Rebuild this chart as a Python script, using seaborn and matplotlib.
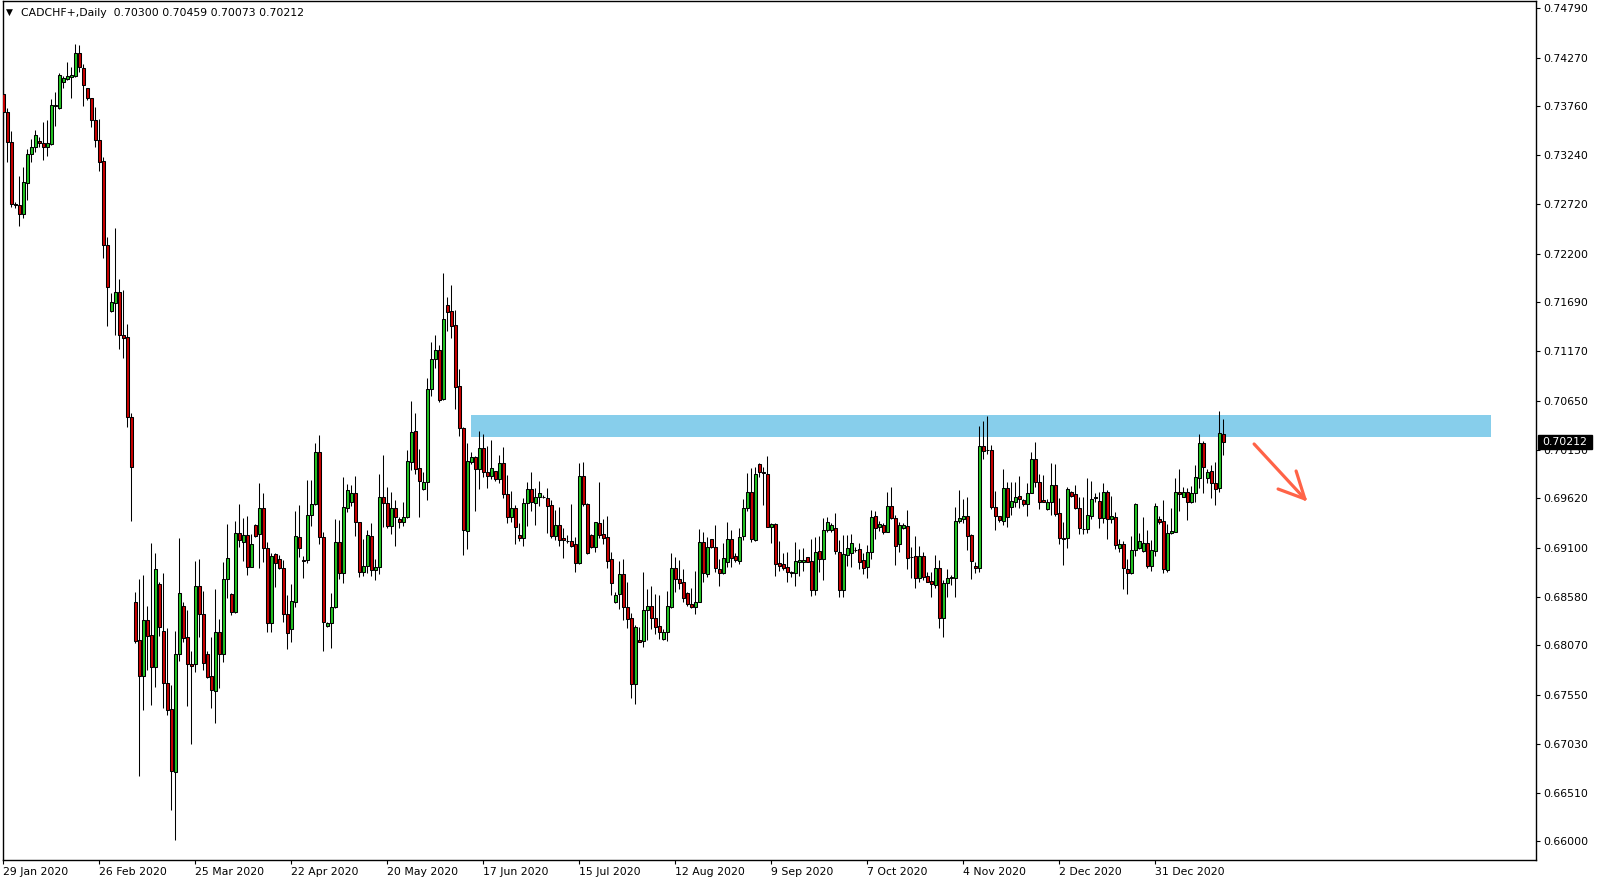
import matplotlib
matplotlib.use("Agg")
import matplotlib.pyplot as plt
from matplotlib.patches import Rectangle
import seaborn as sns
import pandas as pd
import numpy as np

# ---------------- data (CADCHF+, Daily) ----------------
opens = [
    .73881, .73691, .73375, .72727, .72713, .72621, .72942, .73248, .73322, .73389,
    .73368, .73322, .73360, .73769, .73741, .74008, .74047, .74068, .74079, .74318,
    .74160, .73948, .73843, .73610, .73399, .73177, .72297, .71600, .71685, .71801,
    .71347, .71318, .70474, .68522, .68125, .67749, .68336, .68178, .67844, .68716,
    .68220, .67668, .67397, .66736, .67974, .68484, .68153, .67872, .67868, .68695,
    .68399, .67977, .67745, .67583, .68206, .67974, .68769, .68610, .68424, .69250,
    .69155, .69233, .68898, .69338, .69240, .69514, .69092, .68301, .69029, .68976,
    .68881, .68396, .68237, .68529, .69208, .68969, .68969, .69444, .69556, .70105,
    .69208, .68273, .68301, .68469, .69155, .68828, .69514, .69584, .69672, .69366,
    .68846, .68909, .69222, .68860, .68900, .69630, .69567, .69331, .69514, .69398,
    .69366, .69426, .70006, .70326, .69936, .69714, .69788, .70769, .71090, .71184,
    .70667, .71656, .71596, .71448, .70805, .70358, .69278, .69999, .70052, .69929,
    .70147, .69894, .69859, .69908, .69820, .69989, .69662, .69419, .69514, .69233,
    .69197, .69567, .69714, .69567, .69630, .69637, .69620, .69549, .69226, .69338,
    .69197, .69173, .69170, .69138, .68941, .69855, .69560, .69233, .69110, .69356,
    .69240, .69208, .68979, .68529, .68607, .68821, .68469, .68353, .67657, .68125,
    .68114, .68441, .68484, .68353, .68273, .68132, .68213, .68477, .68881, .68765,
    .68733, .68617, .68501, .68469, .68529, .69155, .68818, .69187, .69103, .68870,
    .68828, .68944, .69187, .69015, .68962, .69226, .69514, .69683, .69180, .69978,
    .69894, .69876, .69321, .69345, .68941, .68923, .68892, .68839, .68828, .68951,
    .68951, .68997, .68958, .68652, .69064, .68976, .69285, .69285, .69303, .69050,
    .68652, .69022, .69039, .69070, .69081, .68968, .68891, .69049, .69433, .69320,
    .69338, .69267, .69538, .69408, .69134, .69303, .69327, .69004, .69011, .68775,
    .69011, .68800, .68747, .68705, .68881, .68353, .68722, .68775, .68775, .69380,
    .69397, .69433, .69233, .68909, .68888, .70172, .70126, .70129, .69525, .69433,
    .69384, .69725, .69532, .69584, .69644, .69602, .69556, .69679, .70031, .69795,
    .69602, .69503, .69577, .69760, .69461, .69197, .69197, .69683, .69662, .69514,
    .69300, .69292, .69437, .69630, .69591, .69408, .69683, .69398, .69419, .69092,
    .69138, .68874, .68828, .69074, .69099, .69067, .69145, .68909, .69067, .69401,
    .69380, .68863, .69250, .69268, .69683, .69637, .69683, .69577, .69672, .69831,
    .70200, .69831, .69908, .69778, .69725, .70300,
]
closes = [
    .73691, .73375, .72730, .72713, .72621, .72959, .73251, .73322, .73452, .73364,
    .73322, .73368, .73769, .73755, .74086, .74057, .74075, .74086, .74318, .74167,
    .73980, .73839, .73607, .73396, .73170, .72297, .71854, .71688, .71801, .71347,
    .71315, .70474, .69947, .68118, .67749, .68336, .68171, .67844, .68874, .68266,
    .67668, .67387, .66747, .67974, .68617, .68150, .67868, .67854, .68695, .68396,
    .67879, .67738, .67594, .68206, .67974, .68769, .68987, .68424, .69250, .69180,
    .69233, .68899, .69134, .69222, .69514, .69092, .68301, .69011, .68934, .68888,
    .68396, .68195, .68536, .69222, .69092, .68958, .69444, .69556, .70105, .69208,
    .68318, .68301, .68469, .69155, .68828, .69525, .69707, .69672, .69366, .68846,
    .68909, .69233, .68860, .68900, .69630, .69567, .69331, .69514, .69426, .69366,
    .69419, .70013, .70316, .69929, .69806, .69788, .70769, .71086, .71184, .70657,
    .71508, .71589, .71441, .70798, .70358, .69285, .70013, .70052, .69929, .70147,
    .69894, .69859, .69936, .69820, .69989, .69662, .69426, .69514, .69321, .69197,
    .69567, .69714, .69577, .69630, .69672, .69630, .69542, .69226, .69338, .69180,
    .69180, .69170, .69120, .68941, .69855, .69560, .69046, .69110, .69366, .69233,
    .69205, .68962, .68723, .68600, .68821, .68469, .68346, .67657, .68258, .68107,
    .68441, .68484, .68353, .68265, .68213, .68213, .68484, .68881, .68765, .68730,
    .68564, .68501, .68469, .68529, .69155, .68828, .69110, .69103, .68881, .68828,
    .68986, .69187, .68986, .68969, .69215, .69514, .69683, .69187, .69876, .69894,
    .69890, .69321, .69345, .68923, .68909, .68881, .68846, .68828, .68958, .68969,
    .68969, .68951, .68652, .69050, .68976, .69285, .69366, .69338, .69067, .68652,
    .69029, .69099, .69144, .69078, .68951, .68888, .69049, .69419, .69303, .69348,
    .69267, .69538, .69408, .69120, .69338, .69338, .68993, .69000, .68775, .69011,
    .68793, .68740, .68712, .68881, .68353, .68722, .68775, .68793, .69380, .69408,
    .69433, .69225, .68962, .68888, .70172, .70122, .70130, .69532, .69437, .69391,
    .69725, .69426, .69591, .69637, .69612, .69556, .69672, .70031, .69795, .69584,
    .69584, .69577, .69760, .69454, .69197, .69187, .69714, .69648, .69514, .69303,
    .69292, .69444, .69612, .69627, .69416, .69683, .69398, .69433, .69127, .69138,
    .68881, .68828, .69074, .69560, .69169, .69145, .68909, .69074, .69539, .69373,
    .68870, .69250, .69275, .69683, .69665, .69683, .69577, .69672, .69841, .70200,
    .69954, .69901, .69778, .69718, .70305, .70212,
]
highs = [
    .74050, .73734, .73494, .72748, .73023, .73114, .73304, .73410, .73505, .73434,
    .73586, .73610, .73832, .73910, .74107, .74071, .74219, .74170, .74409, .74402,
    .74205, .73948, .73843, .73751, .73621, .73220, .72375, .71791, .72473, .71938,
    .71822, .71463, .70520, .68635, .68765, .68811, .68484, .69145, .69047, .68741,
    .68829, .68248, .67651, .68220, .69197, .68529, .68441, .68009, .68958, .68979,
    .68642, .68009, .68160, .68663, .68347, .68951, .69349, .68624, .69384, .69560,
    .69409, .69433, .69240, .69349, .69778, .69679, .69155, .69046, .69046, .69022,
    .68969, .68600, .68716, .69486, .69549, .69011, .69813, .69813, .70207, .70288,
    .69261, .68318, .68624, .69401, .69391, .69848, .69771, .69760, .69855, .69366,
    .69190, .69285, .69356, .68980, .69876, .70077, .69735, .69683, .69602, .69419,
    .69577, .70129, .70646, .70516, .70136, .69894, .70893, .71265, .71343, .71237,
    .71993, .71740, .71870, .71606, .70984, .70376, .70200, .70105, .70066, .70333,
    .70298, .70175, .70235, .69911, .70077, .70165, .69866, .69697, .69549, .69356,
    .69627, .69795, .69901, .69732, .69802, .69655, .69725, .69602, .69496, .69525,
    .69303, .69233, .69560, .69215, .69996, .70006, .69570, .69240, .69370, .69788,
    .69401, .69433, .69050, .68635, .68958, .68979, .68733, .68406, .68283, .68258,
    .68839, .68663, .68695, .68610, .68600, .68241, .68642, .69039, .68997, .68969,
    .68870, .68628, .68670, .68853, .69292, .69261, .69215, .69191, .69338, .68979,
    .69145, .69366, .69285, .69039, .69303, .69609, .69883, .69936, .69954, .69989,
    .69954, .70066, .69356, .69356, .69169, .69039, .69057, .68856, .69155, .69085,
    .69099, .69004, .69190, .69215, .69222, .69416, .69426, .69356, .69468, .69180,
    .69233, .69233, .69239, .69102, .69151, .69039, .69127, .69496, .69489, .69380,
    .69355, .69682, .69742, .69443, .69366, .69362, .69496, .69109, .69222, .69116,
    .69056, .68845, .68845, .69021, .68968, .68758, .68873, .68810, .69531, .69707,
    .69609, .69630, .69240, .68951, .70383, .70435, .70488, .70182, .69697, .69437,
    .69929, .69795, .69795, .69795, .69855, .69609, .69778, .70112, .70210, .69876,
    .69866, .69612, .69996, .69982, .69620, .69373, .69736, .69700, .69760, .69637,
    .69630, .69838, .69802, .69672, .69683, .69778, .69707, .69644, .69479, .69190,
    .69173, .68979, .69222, .69574, .69250, .69419, .69285, .69180, .69574, .69433,
    .69602, .69349, .69514, .69831, .69925, .69736, .69725, .69753, .69971, .70295,
    .70224, .69925, .69971, .70006, .70541, .70459,
]
lows = [
    .73558, .73170, .72695, .72685, .72495, .72572, .72769, .73170, .73269, .73329,
    .73192, .73234, .73346, .73551, .73727, .73952, .74033, .73846, .74064, .74114,
    .73762, .73825, .73536, .73325, .73072, .72157, .71439, .71586, .71340, .71199,
    .71101, .70372, .69384, .68090, .66694, .67387, .67809, .67440, .67633, .68171,
    .67404, .67334, .66332, .66015, .67907, .68100, .67432, .67028, .67791, .68160,
    .67809, .67720, .67411, .67253, .67622, .67896, .68572, .68389, .68410, .69103,
    .68962, .68811, .68891, .69215, .68888, .68951, .68206, .68206, .68687, .68874,
    .68311, .68026, .68107, .68469, .69004, .68775, .68941, .69331, .69550, .69134,
    .68009, .68266, .68037, .68459, .68768, .68730, .69472, .69539, .69226, .68793,
    .68800, .68828, .68800, .68760, .68820, .69320, .69310, .69243, .69120, .69303,
    .69331, .69415, .69918, .69873, .69426, .69707, .69602, .70699, .70998, .70639,
    .70657, .71388, .71315, .70562, .70281, .69021, .69085, .69982, .69489, .69718,
    .69841, .69732, .69823, .69806, .69778, .69620, .69363, .69366, .69134, .69173,
    .69120, .69331, .69489, .69338, .69542, .69620, .69250, .69205, .69180, .69120,
    .68993, .69152, .69110, .68846, .68930, .69539, .69030, .69100, .69057, .69205,
    .69138, .68888, .68600, .68512, .68448, .68336, .68255, .67516, .67446, .68100,
    .68054, .68125, .68237, .68185, .68135, .68125, .68118, .68466, .68628, .68663,
    .68529, .68487, .68460, .68396, .68522, .68740, .68793, .69092, .68846, .68698,
    .68818, .68899, .68899, .68944, .68927, .69180, .69489, .69162, .69173, .69848,
    .69549, .69314, .69152, .68804, .68856, .68863, .68740, .68786, .68698, .68800,
    .68856, .68944, .68593, .68600, .68839, .68758, .69268, .69268, .69032, .68575,
    .68575, .68906, .68898, .69049, .68873, .68817, .68775, .68979, .69190, .69274,
    .69239, .69260, .69401, .68916, .69056, .69292, .68873, .68775, .68677, .68733,
    .68757, .68733, .68582, .68669, .68247, .68159, .68582, .68705, .68575, .69355,
    .69362, .69074, .68768, .68835, .68846, .70034, .70087, .69503, .69285, .69373,
    .69338, .69321, .69444, .69525, .69521, .69539, .69437, .69672, .69736, .69507,
    .69577, .69496, .69444, .69433, .69138, .68916, .69092, .69637, .69507, .69243,
    .69243, .69257, .69401, .69584, .69310, .69363, .69190, .69363, .69081, .69057,
    .68663, .68607, .68818, .69015, .69081, .69050, .68881, .68856, .69011, .69349,
    .68828, .68846, .69243, .69261, .69486, .69630, .69391, .69567, .69584, .69725,
    .69679, .69785, .69627, .69549, .69683, .70073,
]

date_labels = ["29 Jan 2020", "26 Feb 2020", "25 Mar 2020", "22 Apr 2020",
               "20 May 2020", "17 Jun 2020", "15 Jul 2020", "12 Aug 2020",
               "9 Sep 2020", "7 Oct 2020", "4 Nov 2020", "2 Dec 2020", "31 Dec 2020"]
bars_per_label = 24
price_ticks = [0.74790, 0.74270, 0.73760, 0.73240, 0.72720, 0.72200, 0.71690,
               0.71170, 0.70650, 0.70130, 0.69620, 0.69100, 0.68580, 0.68070,
               0.67550, 0.67030, 0.66510, 0.66000]
symbol_title = "CADCHF+,Daily"
last_price = 0.70212

# resistance zone (bar index range, price range)
zone_bars = (116.9, 371.9)
zone_prices = (0.70270, 0.70499)
# hand-drawn arrow (bar index, price)
arrow_start = (312.7, 0.70193)
arrow_end = (325.4, 0.69613)
arrow_head_a = (318.7, 0.69718)
arrow_head_b = (323.2, 0.69908)

df = pd.DataFrame({"open": opens, "high": highs, "low": lows, "close": closes})
df["bar"] = np.arange(len(df))
df["up"] = df["close"] >= df["open"]

# ---------------- figure ----------------
sns.set_theme(style="white")
plt.rcParams["font.family"] = ["DejaVu Sans"]
W, H = 1600, 884
fig = plt.figure(figsize=(W / 100, H / 100), dpi=100)
fig.patch.set_facecolor("white")
ax_left, ax_right, ax_top, ax_bottom = 2.7, 1536.0, 0.5, 859.5
ax = fig.add_axes([ax_left / W, 1 - ax_bottom / H, (ax_right - ax_left) / W,
                   (ax_bottom - ax_top) / H])
ax.set_facecolor("white")

GREEN = "#22c322"
RED = "#c80000"
FS = 7.8

# zone
ax.add_patch(Rectangle((zone_bars[0], zone_prices[0]), zone_bars[1] - zone_bars[0],
                       zone_prices[1] - zone_prices[0], facecolor="#87ceeb",
                       edgecolor="none", zorder=1))

# wicks
ax.vlines(df["bar"], df["low"], df["high"], color="black", linewidth=0.75, zorder=2)
# bodies
for up, col in ((True, GREEN), (False, RED)):
    d = df[df["up"] == up]
    ax.bar(d["bar"], (d["close"] - d["open"]).abs(), bottom=d[["open", "close"]].min(axis=1),
           width=0.72, color=col, edgecolor="black", linewidth=0.75, zorder=3)

# arrow
ARROW = "#ff6347"
for p0 in (arrow_start, arrow_head_a, arrow_head_b):
    ax.plot([p0[0], arrow_end[0]], [p0[1], arrow_end[1]], color=ARROW, linewidth=2.3,
            solid_capstyle="round", zorder=4)

# scales
ax.set_xlim(-0.15, (ax_right - 3.3) / 4)
ax.set_ylim(0.74877 - 0.0001055 * ax_bottom, 0.74877 - 0.0001055 * ax_top)

ax.yaxis.tick_right()
ax.set_yticks(price_ticks)
ax.set_yticklabels([f"{p:.5f}" for p in price_ticks])
ax.tick_params(axis="y", which="both", direction="out", length=3, width=0.8,
               pad=2.5, labelsize=FS, colors="black", left=False, right=True)

xt = np.arange(len(date_labels)) * bars_per_label
ax.set_xticks(xt)
ax.set_xticklabels(date_labels, ha="left")
ax.tick_params(axis="x", which="both", direction="out", length=3, width=0.8,
               pad=2.5, labelsize=FS, colors="black", bottom=True, top=False)
for lbl in ax.get_xticklabels():
    lbl.set_horizontalalignment("left")

for s in ax.spines.values():
    s.set_color("black")
    s.set_linewidth(1.0)
    s.set_visible(True)
ax.grid(False)

# header
fig.text(6 / W, 1 - 12.5 / H, "\u25bc", fontsize=6.5, va="center", ha="left", color="black")
fig.text(21 / W, 1 - 12.5 / H, symbol_title + "  " +
         " ".join(f"{v:.5f}" for v in (opens[-1], highs[-1], lows[-1], closes[-1])),
         fontsize=FS, va="center", ha="left", color="black")

# current price label
y_px = (0.74877 - last_price) / 0.0001055
fig.patches.append(Rectangle((1538 / W, 1 - (y_px + 7) / H), 54 / W, 14 / H,
                             transform=fig.transFigure, facecolor="black",
                             edgecolor="black", zorder=5))
fig.text(1542 / W, 1 - y_px / H, f"{last_price:.5f}", color="white", fontsize=FS,
         va="center", ha="left", zorder=6)

fig.savefig("out.png", dpi=100, facecolor="white")
